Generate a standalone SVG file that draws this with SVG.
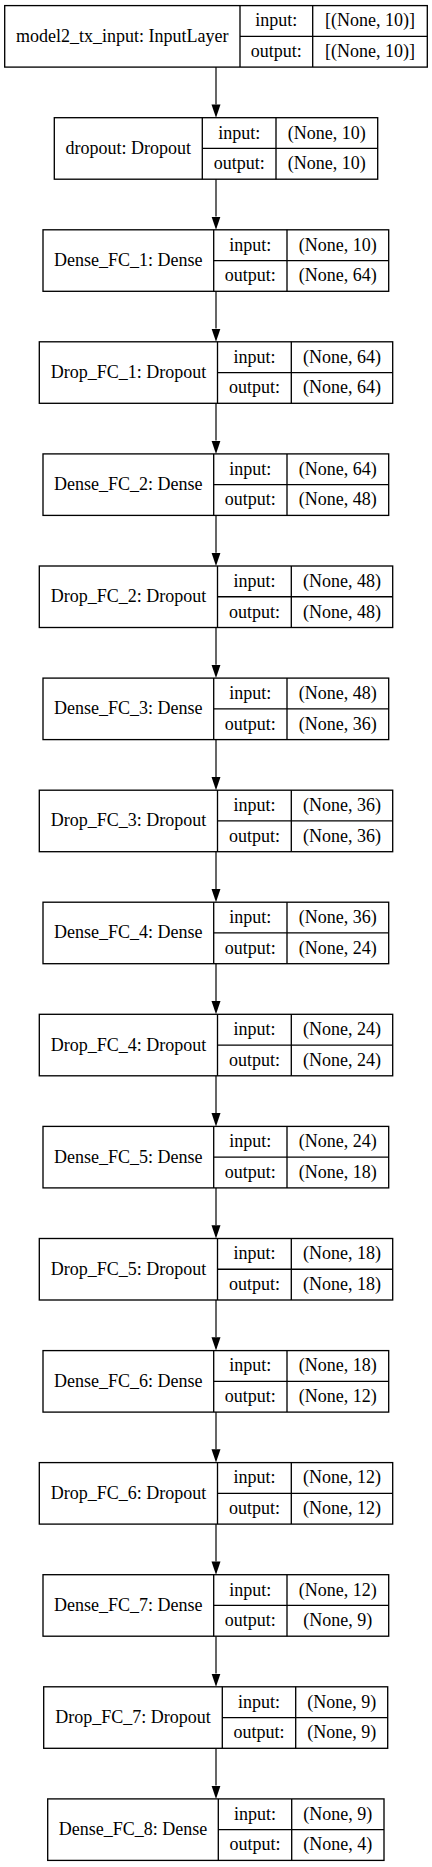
<svg xmlns="http://www.w3.org/2000/svg" width="432" height="1867" viewBox="0 0 432 1867" font-family="'Liberation Serif', 'Times New Roman', Times, 'DejaVu Serif', serif" font-size="18">
<style>
.b{fill:#fff;stroke:#000;stroke-width:1.33}
.l{stroke:#000;stroke-width:1.33}
text{font-family:'Liberation Serif','Times New Roman',Times,'DejaVu Serif',serif;font-size:18px;fill:#000;text-anchor:middle}
.c{stroke:#404040;stroke-width:1.6;fill:none}
</style>
<defs>
<marker id="ah" markerUnits="userSpaceOnUse" markerWidth="14" markerHeight="10" viewBox="0 -5 14 10" refX="0" refY="0" orient="auto">
<path d="M0,-4.5 L13.3,0 L0,4.5 z" fill="#000"/>
</marker>
</defs>
<rect width="432" height="1867" fill="#fff"/>
<g id="connectors">
<line class="c" x1="216" y1="67.1" x2="216" y2="104.4" marker-end="url(#ah)"/>
<line class="c" x1="216" y1="179.2" x2="216" y2="216.5" marker-end="url(#ah)"/>
<line class="c" x1="216" y1="291.3" x2="216" y2="328.5" marker-end="url(#ah)"/>
<line class="c" x1="216" y1="403.3" x2="216" y2="440.6" marker-end="url(#ah)"/>
<line class="c" x1="216" y1="515.4" x2="216" y2="552.7" marker-end="url(#ah)"/>
<line class="c" x1="216" y1="627.5" x2="216" y2="664.8" marker-end="url(#ah)"/>
<line class="c" x1="216" y1="739.6" x2="216" y2="776.9" marker-end="url(#ah)"/>
<line class="c" x1="216" y1="851.7" x2="216" y2="888.9" marker-end="url(#ah)"/>
<line class="c" x1="216" y1="963.7" x2="216" y2="1001.0" marker-end="url(#ah)"/>
<line class="c" x1="216" y1="1075.8" x2="216" y2="1113.1" marker-end="url(#ah)"/>
<line class="c" x1="216" y1="1187.9" x2="216" y2="1225.2" marker-end="url(#ah)"/>
<line class="c" x1="216" y1="1300.0" x2="216" y2="1337.3" marker-end="url(#ah)"/>
<line class="c" x1="216" y1="1412.1" x2="216" y2="1449.3" marker-end="url(#ah)"/>
<line class="c" x1="216" y1="1524.1" x2="216" y2="1561.4" marker-end="url(#ah)"/>
<line class="c" x1="216" y1="1636.2" x2="216" y2="1673.5" marker-end="url(#ah)"/>
<line class="c" x1="216" y1="1748.3" x2="216" y2="1785.6" marker-end="url(#ah)"/>
</g>
<g id="model2_tx_input" transform="translate(0,5.6)">
<rect class="b" x="4.7" y="0" width="422.6" height="61.5"/>
<line class="l" x1="240" y1="0" x2="240" y2="61.5"/><line class="l" x1="240" y1="30.75" x2="427.3" y2="30.75"/><line class="l" x1="312.7" y1="0" x2="312.7" y2="61.5"/>
<text x="122.35" y="36.3">model2_tx_input: InputLayer</text>
<text x="276.35" y="20.9">input:</text><text x="276.35" y="51.6">output:</text>
<text x="370" y="20.9">[(None, 10)]</text><text x="370" y="51.6">[(None, 10)]</text>
</g>
<g id="dropout" transform="translate(0,117.7)">
<rect class="b" x="54.3" y="0" width="323.4" height="61.5"/>
<line class="l" x1="202.3" y1="0" x2="202.3" y2="61.5"/><line class="l" x1="202.3" y1="30.75" x2="377.7" y2="30.75"/><line class="l" x1="276" y1="0" x2="276" y2="61.5"/>
<text x="128.3" y="36.3">dropout: Dropout</text>
<text x="239.15" y="20.9">input:</text><text x="239.15" y="51.6">output:</text>
<text x="326.85" y="20.9">(None, 10)</text><text x="326.85" y="51.6">(None, 10)</text>
</g>
<g id="Dense_FC_1" transform="translate(0,229.8)">
<rect class="b" x="43" y="0" width="345.7" height="61.5"/>
<line class="l" x1="213.7" y1="0" x2="213.7" y2="61.5"/><line class="l" x1="213.7" y1="30.75" x2="388.7" y2="30.75"/><line class="l" x1="287" y1="0" x2="287" y2="61.5"/>
<text x="128.35" y="36.3">Dense_FC_1: Dense</text>
<text x="250.35" y="20.9">input:</text><text x="250.35" y="51.6">output:</text>
<text x="337.85" y="20.9">(None, 10)</text><text x="337.85" y="51.6">(None, 64)</text>
</g>
<g id="Drop_FC_1" transform="translate(0,341.8)">
<rect class="b" x="39.3" y="0" width="353.4" height="61.5"/>
<line class="l" x1="217.5" y1="0" x2="217.5" y2="61.5"/><line class="l" x1="217.5" y1="30.75" x2="392.7" y2="30.75"/><line class="l" x1="291.3" y1="0" x2="291.3" y2="61.5"/>
<text x="128.4" y="36.3">Drop_FC_1: Dropout</text>
<text x="254.4" y="20.9">input:</text><text x="254.4" y="51.6">output:</text>
<text x="342" y="20.9">(None, 64)</text><text x="342" y="51.6">(None, 64)</text>
</g>
<g id="Dense_FC_2" transform="translate(0,453.9)">
<rect class="b" x="43" y="0" width="345.7" height="61.5"/>
<line class="l" x1="213.7" y1="0" x2="213.7" y2="61.5"/><line class="l" x1="213.7" y1="30.75" x2="388.7" y2="30.75"/><line class="l" x1="287" y1="0" x2="287" y2="61.5"/>
<text x="128.35" y="36.3">Dense_FC_2: Dense</text>
<text x="250.35" y="20.9">input:</text><text x="250.35" y="51.6">output:</text>
<text x="337.85" y="20.9">(None, 64)</text><text x="337.85" y="51.6">(None, 48)</text>
</g>
<g id="Drop_FC_2" transform="translate(0,566.0)">
<rect class="b" x="39.3" y="0" width="353.4" height="61.5"/>
<line class="l" x1="217.5" y1="0" x2="217.5" y2="61.5"/><line class="l" x1="217.5" y1="30.75" x2="392.7" y2="30.75"/><line class="l" x1="291.3" y1="0" x2="291.3" y2="61.5"/>
<text x="128.4" y="36.3">Drop_FC_2: Dropout</text>
<text x="254.4" y="20.9">input:</text><text x="254.4" y="51.6">output:</text>
<text x="342" y="20.9">(None, 48)</text><text x="342" y="51.6">(None, 48)</text>
</g>
<g id="Dense_FC_3" transform="translate(0,678.1)">
<rect class="b" x="43" y="0" width="345.7" height="61.5"/>
<line class="l" x1="213.7" y1="0" x2="213.7" y2="61.5"/><line class="l" x1="213.7" y1="30.75" x2="388.7" y2="30.75"/><line class="l" x1="287" y1="0" x2="287" y2="61.5"/>
<text x="128.35" y="36.3">Dense_FC_3: Dense</text>
<text x="250.35" y="20.9">input:</text><text x="250.35" y="51.6">output:</text>
<text x="337.85" y="20.9">(None, 48)</text><text x="337.85" y="51.6">(None, 36)</text>
</g>
<g id="Drop_FC_3" transform="translate(0,790.2)">
<rect class="b" x="39.3" y="0" width="353.4" height="61.5"/>
<line class="l" x1="217.5" y1="0" x2="217.5" y2="61.5"/><line class="l" x1="217.5" y1="30.75" x2="392.7" y2="30.75"/><line class="l" x1="291.3" y1="0" x2="291.3" y2="61.5"/>
<text x="128.4" y="36.3">Drop_FC_3: Dropout</text>
<text x="254.4" y="20.9">input:</text><text x="254.4" y="51.6">output:</text>
<text x="342" y="20.9">(None, 36)</text><text x="342" y="51.6">(None, 36)</text>
</g>
<g id="Dense_FC_4" transform="translate(0,902.2)">
<rect class="b" x="43" y="0" width="345.7" height="61.5"/>
<line class="l" x1="213.7" y1="0" x2="213.7" y2="61.5"/><line class="l" x1="213.7" y1="30.75" x2="388.7" y2="30.75"/><line class="l" x1="287" y1="0" x2="287" y2="61.5"/>
<text x="128.35" y="36.3">Dense_FC_4: Dense</text>
<text x="250.35" y="20.9">input:</text><text x="250.35" y="51.6">output:</text>
<text x="337.85" y="20.9">(None, 36)</text><text x="337.85" y="51.6">(None, 24)</text>
</g>
<g id="Drop_FC_4" transform="translate(0,1014.3)">
<rect class="b" x="39.3" y="0" width="353.4" height="61.5"/>
<line class="l" x1="217.5" y1="0" x2="217.5" y2="61.5"/><line class="l" x1="217.5" y1="30.75" x2="392.7" y2="30.75"/><line class="l" x1="291.3" y1="0" x2="291.3" y2="61.5"/>
<text x="128.4" y="36.3">Drop_FC_4: Dropout</text>
<text x="254.4" y="20.9">input:</text><text x="254.4" y="51.6">output:</text>
<text x="342" y="20.9">(None, 24)</text><text x="342" y="51.6">(None, 24)</text>
</g>
<g id="Dense_FC_5" transform="translate(0,1126.4)">
<rect class="b" x="43" y="0" width="345.7" height="61.5"/>
<line class="l" x1="213.7" y1="0" x2="213.7" y2="61.5"/><line class="l" x1="213.7" y1="30.75" x2="388.7" y2="30.75"/><line class="l" x1="287" y1="0" x2="287" y2="61.5"/>
<text x="128.35" y="36.3">Dense_FC_5: Dense</text>
<text x="250.35" y="20.9">input:</text><text x="250.35" y="51.6">output:</text>
<text x="337.85" y="20.9">(None, 24)</text><text x="337.85" y="51.6">(None, 18)</text>
</g>
<g id="Drop_FC_5" transform="translate(0,1238.5)">
<rect class="b" x="39.3" y="0" width="353.4" height="61.5"/>
<line class="l" x1="217.5" y1="0" x2="217.5" y2="61.5"/><line class="l" x1="217.5" y1="30.75" x2="392.7" y2="30.75"/><line class="l" x1="291.3" y1="0" x2="291.3" y2="61.5"/>
<text x="128.4" y="36.3">Drop_FC_5: Dropout</text>
<text x="254.4" y="20.9">input:</text><text x="254.4" y="51.6">output:</text>
<text x="342" y="20.9">(None, 18)</text><text x="342" y="51.6">(None, 18)</text>
</g>
<g id="Dense_FC_6" transform="translate(0,1350.6)">
<rect class="b" x="43" y="0" width="345.7" height="61.5"/>
<line class="l" x1="213.7" y1="0" x2="213.7" y2="61.5"/><line class="l" x1="213.7" y1="30.75" x2="388.7" y2="30.75"/><line class="l" x1="287" y1="0" x2="287" y2="61.5"/>
<text x="128.35" y="36.3">Dense_FC_6: Dense</text>
<text x="250.35" y="20.9">input:</text><text x="250.35" y="51.6">output:</text>
<text x="337.85" y="20.9">(None, 18)</text><text x="337.85" y="51.6">(None, 12)</text>
</g>
<g id="Drop_FC_6" transform="translate(0,1462.6)">
<rect class="b" x="39.3" y="0" width="353.4" height="61.5"/>
<line class="l" x1="217.5" y1="0" x2="217.5" y2="61.5"/><line class="l" x1="217.5" y1="30.75" x2="392.7" y2="30.75"/><line class="l" x1="291.3" y1="0" x2="291.3" y2="61.5"/>
<text x="128.4" y="36.3">Drop_FC_6: Dropout</text>
<text x="254.4" y="20.9">input:</text><text x="254.4" y="51.6">output:</text>
<text x="342" y="20.9">(None, 12)</text><text x="342" y="51.6">(None, 12)</text>
</g>
<g id="Dense_FC_7" transform="translate(0,1574.7)">
<rect class="b" x="43" y="0" width="345.7" height="61.5"/>
<line class="l" x1="213.7" y1="0" x2="213.7" y2="61.5"/><line class="l" x1="213.7" y1="30.75" x2="388.7" y2="30.75"/><line class="l" x1="287" y1="0" x2="287" y2="61.5"/>
<text x="128.35" y="36.3">Dense_FC_7: Dense</text>
<text x="250.35" y="20.9">input:</text><text x="250.35" y="51.6">output:</text>
<text x="337.85" y="20.9">(None, 12)</text><text x="337.85" y="51.6">(None, 9)</text>
</g>
<g id="Drop_FC_7" transform="translate(0,1686.8)">
<rect class="b" x="43.7" y="0" width="344" height="61.5"/>
<line class="l" x1="222.3" y1="0" x2="222.3" y2="61.5"/><line class="l" x1="222.3" y1="30.75" x2="387.7" y2="30.75"/><line class="l" x1="295.7" y1="0" x2="295.7" y2="61.5"/>
<text x="133" y="36.3">Drop_FC_7: Dropout</text>
<text x="259" y="20.9">input:</text><text x="259" y="51.6">output:</text>
<text x="341.7" y="20.9">(None, 9)</text><text x="341.7" y="51.6">(None, 9)</text>
</g>
<g id="Dense_FC_8" transform="translate(0,1798.9)">
<rect class="b" x="47.7" y="0" width="336.3" height="61.5"/>
<line class="l" x1="218.3" y1="0" x2="218.3" y2="61.5"/><line class="l" x1="218.3" y1="30.75" x2="384" y2="30.75"/><line class="l" x1="291.7" y1="0" x2="291.7" y2="61.5"/>
<text x="133" y="36.3">Dense_FC_8: Dense</text>
<text x="255" y="20.9">input:</text><text x="255" y="51.6">output:</text>
<text x="337.85" y="20.9">(None, 9)</text><text x="337.85" y="51.6">(None, 4)</text>
</g>
</svg>
